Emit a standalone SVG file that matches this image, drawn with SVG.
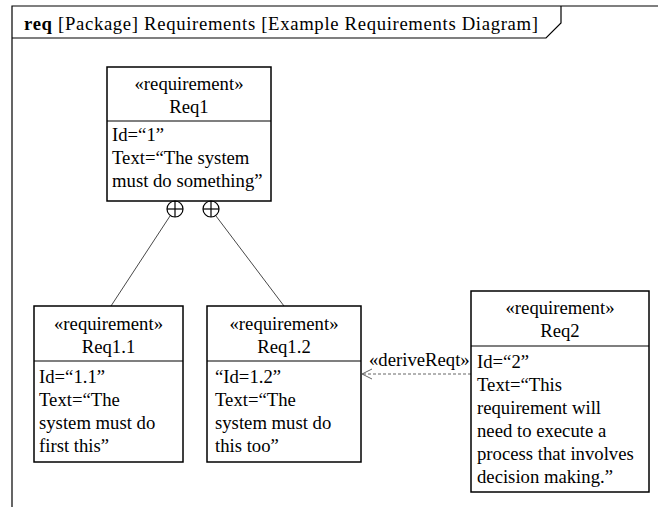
<svg xmlns="http://www.w3.org/2000/svg" width="658" height="507" viewBox="0 0 658 507" font-family="'Liberation Serif', 'Times New Roman', 'DejaVu Serif', serif">
<style>
text{font-family:'Liberation Serif','Times New Roman','DejaVu Serif',serif;font-size:18.7px;fill:#000}
.c{text-anchor:middle}
.box{fill:#fff;stroke:#000;stroke-width:1.5}
.ln{stroke:#000;stroke-width:1.2;fill:none}
.thin{stroke:#333;stroke-width:0.9;fill:none}
</style>
<defs>
<marker id="open" markerWidth="12" markerHeight="12" refX="11" refY="6" orient="auto" markerUnits="userSpaceOnUse">
<path d="M1,1 L11,6 L1,11" fill="none" stroke="#555" stroke-width="0.9"/>
</marker>
</defs>
<rect width="658" height="507" fill="#fff"/>
<g id="frame">
<path class="ln" d="M12,507 V6 H658"/>
<path class="ln" d="M12,38 H546 L561,23 V6" stroke-width="1"/>
<text x="24" y="30" textLength="514" lengthAdjust="spacing"><tspan font-weight="bold">req</tspan> [Package] Requirements [Example Requirements Diagram]</text>
</g>
<g id="connectors">
<line class="thin" x1="170" y1="216" x2="111" y2="306"/>
<line class="thin" x1="216" y1="216" x2="284" y2="306"/>
<line x1="471" y1="374" x2="362" y2="374" stroke="#555" stroke-width="0.9" stroke-dasharray="3,2" marker-end="url(#open)"/>
<text x="369" y="366">«deriveReqt»</text>
</g>
<g id="req1">
<rect class="box" x="107" y="67" width="164" height="134"/>
<line class="ln" x1="107" y1="121" x2="271" y2="121" stroke-width="1.5"/>
<text class="c" x="189" y="90">«requirement»</text>
<text class="c" x="189" y="113">Req1</text>
<text x="112" y="141">Id=“1”</text>
<text x="112" y="164">Text=“The system</text>
<text x="112" y="187">must do something”</text>
<g class="ln">
<circle cx="175" cy="209" r="8"/>
<line x1="167" y1="209" x2="183" y2="209"/>
<line x1="175" y1="201" x2="175" y2="217"/>
<circle cx="211" cy="209" r="8"/>
<line x1="203" y1="209" x2="219" y2="209"/>
<line x1="211" y1="201" x2="211" y2="217"/>
</g>
</g>
<g id="req1_1">
<rect class="box" x="34" y="306" width="149" height="156"/>
<line class="ln" x1="34" y1="361" x2="183" y2="361" stroke-width="1.5"/>
<text class="c" x="108.5" y="330">«requirement»</text>
<text class="c" x="108.5" y="353">Req1.1</text>
<text x="39" y="383">Id=“1.1”</text>
<text x="39" y="406">Text=“The</text>
<text x="39" y="429">system must do</text>
<text x="39" y="452">first this”</text>
</g>
<g id="req1_2">
<rect class="box" x="207" y="306" width="154" height="156"/>
<line class="ln" x1="207" y1="361" x2="361" y2="361" stroke-width="1.5"/>
<text class="c" x="284" y="330">«requirement»</text>
<text class="c" x="284" y="353">Req1.2</text>
<text x="215" y="383">“Id=1.2”</text>
<text x="215" y="406">Text=“The</text>
<text x="215" y="429">system must do</text>
<text x="215" y="452">this too”</text>
</g>
<g id="req2">
<rect class="box" x="471" y="291" width="178" height="201"/>
<line class="ln" x1="471" y1="346" x2="649" y2="346" stroke-width="1.5"/>
<text class="c" x="560" y="314">«requirement»</text>
<text class="c" x="560" y="337">Req2</text>
<text x="477" y="368">Id=“2”</text>
<text x="477" y="391">Text=“This</text>
<text x="477" y="414">requirement will</text>
<text x="477" y="437">need to execute a</text>
<text x="477" y="460">process that involves</text>
<text x="477" y="483">decision making.”</text>
</g>
</svg>
